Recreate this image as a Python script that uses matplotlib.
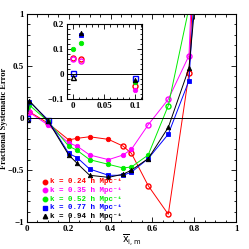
import numpy as np
import matplotlib
matplotlib.use("Agg")
import matplotlib.pyplot as plt
from matplotlib.ticker import MultipleLocator

plt.rcParams['font.family'] = ['Liberation Serif', 'DejaVu Serif']

# shared x positions of the measurements
xs = [0, 0.012, 0.1, 0.2, 0.24, 0.3, 0.39, 0.46, 0.5, 0.58, 0.676, 0.775, 0.88]

labels = ["k = 0.24 h Mpc\u207b\u00b9", "k = 0.35 h Mpc\u207b\u00b9", "k = 0.52 h Mpc\u207b\u00b9",
          "k = 0.77 h Mpc\u207b\u00b9", "k = 0.94 h Mpc\u207b\u00b9"]
colors = ["#ff0000", "#ff00ff", "#00ee00", "#0000ff", "#000000"]
markers = ["o", "o", "o", "s", "^"]

red = [0.065, 0.06, -0.048, -0.21, -0.195, -0.18, -0.205, -0.27, -0.34, -0.65, -0.925, 0.43, 5.0]
magenta = [0.06, 0.054, -0.065, -0.24, -0.27, -0.355, -0.40, -0.355, -0.30, -0.065, 0.18, 0.60, 5.85]
green = [0.10, 0.124, -0.03, -0.27, -0.31, -0.40, -0.445, -0.48, -0.47, -0.355, 0.12, 1.06, 2.0]
blue = [0.005, 0.157, -0.015, -0.34, -0.38, -0.49, -0.55, -0.55, -0.52, -0.39, -0.155, 0.36, 3.9]
black = [-0.012, 0.165, -0.025, -0.355, -0.435, -0.55, -0.57, -0.54, -0.50, -0.39, -0.09, 0.48, 2.76]

# 1 = open symbol, 0 = filled symbol
red_open = [1, 1, 1, 0, 0, 0, 0, 1, 1, 1, 1, 1, 1]
magenta_open = [1, 1, 0, 0, 0, 0, 0, 0, 0, 1, 1, 1, 1]
green_open = [0, 0, 0, 0, 0, 0, 0, 0, 0, 0, 1, 0, 0]
blue_open = [1, 0, 1, 0, 0, 0, 0, 0, 0, 0, 0, 0, 0]
black_open = [1, 0, 0, 0, 0, 0, 0, 0, 0, 0, 0, 0, 0]

series = [red, magenta, green, blue, black]
opens = [red_open, magenta_open, green_open, blue_open, black_open]

fig = plt.figure(figsize=(2.49, 2.49), dpi=100)
ax = fig.add_axes([0.108, 0.108, 0.84, 0.836])
ins = fig.add_axes([0.269, 0.602, 0.301, 0.301])


def draw(a, ms, lines=True):
    x = np.array(xs)
    for y, o, c, m in zip(series, opens, colors, markers):
        y = np.array(y)
        o = np.array(o, dtype=bool)
        if lines:
            a.plot(x, y, color=c, lw=0.7)
        a.plot(x[~o], y[~o], ls='none', marker=m, color=c, ms=ms, mew=0.6)
        a.plot(x[o], y[o], ls='none', marker=m, mfc='none', mec=c, ms=ms + 0.4, mew=1.0)


draw(ax, 3.2)
ax.axhline(0, color='black', lw=0.7)
ax.set_xlim(0, 1)
ax.set_ylim(-1, 1)
ax.xaxis.set_minor_locator(MultipleLocator(0.05))
ax.yaxis.set_minor_locator(MultipleLocator(0.1))
ax.set_xticks([0, 0.2, 0.4, 0.6, 0.8, 1])
ax.set_xticklabels(['0', '0.2', '0.4', '0.6', '0.8', '1'])
ax.set_yticks([-1, -0.5, 0, 0.5, 1])
ax.set_yticklabels(['\u22121', '\u22120.5', '0', '0.5', '1'])
ax.set_xlabel(r'$\overline{\mathrm{x}}_{\mathrm{i,m}}$', fontsize=7, labelpad=0)
ax.set_ylabel('Fractional Systematic Error', fontsize=6, fontweight='bold')
ax.yaxis.set_label_coords(-0.088, 0.5)

draw(ins, 3.2, lines=False)
ins.axhline(0, color='black', lw=0.7)
ins.set_xlim(-0.01, 0.111)
ins.set_ylim(-0.1, 0.2)
ins.xaxis.set_minor_locator(MultipleLocator(0.01))
ins.yaxis.set_minor_locator(MultipleLocator(0.02))
ins.set_xticks([0, 0.05, 0.1])
ins.set_xticklabels(['0', '0.05', '0.1'])
ins.set_yticks([-0.1, 0, 0.1, 0.2])
ins.set_yticklabels(['\u22120.1', '0', '0.1', '0.2'])

for a in (ax, ins):
    a.tick_params(which='both', direction='in', top=True, right=True,
                  labelsize=6.5, pad=2, width=0.6)
    a.tick_params(which='major', length=3.5)
    a.tick_params(which='minor', length=1.8)
    for lab in a.get_xticklabels() + a.get_yticklabels():
        lab.set_fontweight('bold')
    for s in a.spines.values():
        s.set_linewidth(0.8)

# legend drawn by hand
for i, (lab, c, m) in enumerate(zip(labels, colors, markers)):
    yy = 0.195 - i * 0.042
    ax.plot([0.085], [yy], transform=ax.transAxes, marker=m, color=c, ms=3.2, clip_on=False)
    ax.text(0.11, yy, lab, transform=ax.transAxes, color=c, fontsize=5.4,
            fontweight='bold', va='center', family=['Liberation Mono', 'DejaVu Sans Mono'])

fig.savefig("out.png", dpi=100)
